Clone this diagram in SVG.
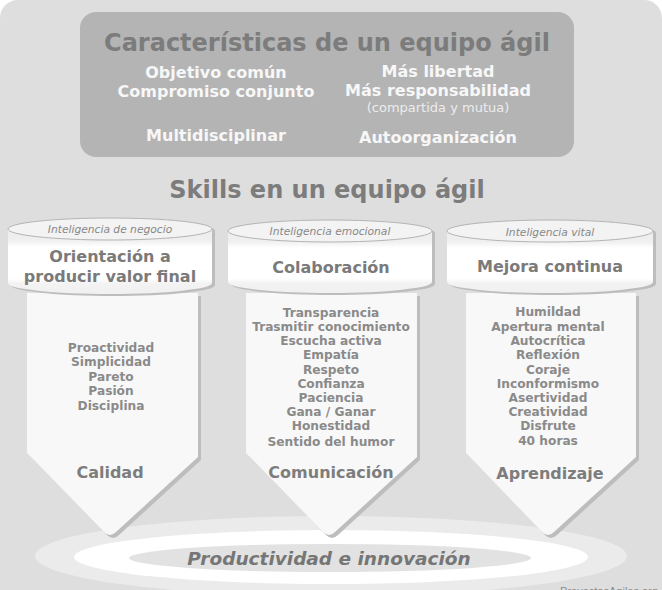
<svg xmlns="http://www.w3.org/2000/svg" width="662" height="590" viewBox="0 0 662 590">
<defs>
<style>
text{font-family:"DejaVu Sans","Verdana",sans-serif;text-anchor:middle}
.w{fill:#f7f7f7;font-weight:bold;font-size:16px}
.tt{fill:#7c7c7c;font-weight:bold;font-size:24px}
.lab{fill:#888;font-style:italic;font-size:10.7px}
.hd{fill:#7a7a7a;font-weight:bold;font-size:16px}
.it{fill:#8a8a8a;font-weight:bold;font-size:12.2px}
.ft{fill:#7d7d7d;font-weight:bold;font-size:16px}
.body{fill:#f8f8f8}
.shd{fill:#bdbdbd}
.cap{fill:url(#capg)}
.top{fill:#f3f3f3;stroke:#b4b4b4;stroke-width:1}
</style>
<linearGradient id="capg" x1="0" y1="0" x2="0" y2="1">
<stop offset="0" stop-color="#e9e9e9"/>
<stop offset="0.3" stop-color="#f0f0f0"/>
<stop offset="0.38" stop-color="#ffffff"/>
<stop offset="0.8" stop-color="#ffffff"/>
<stop offset="0.86" stop-color="#f3f3f3"/>
<stop offset="1" stop-color="#f0f0f0"/>
</linearGradient>
</defs>
<rect x="0" y="0" width="662" height="590" fill="#ffffff"/>
<rect x="0" y="0" width="662" height="610" rx="18" fill="#dedede"/>

<g id="caracteristicas">
<rect x="80" y="12" width="494" height="145" rx="16" fill="#b4b4b4"/>
<text class="tt" x="327" y="51">Características de un equipo ágil</text>
<text class="w" x="216" y="78">Objetivo común</text>
<text class="w" x="216" y="97">Compromiso conjunto</text>
<text class="w" x="438" y="77">Más libertad</text>
<text class="w" x="438" y="96">Más responsabilidad</text>
<text x="438" y="112" style="fill:#ececec;font-size:13px">(compartida y mutua)</text>
<text class="w" x="216" y="141">Multidisciplinar</text>
<text class="w" x="438" y="143">Autoorganización</text>
</g>

<text id="skills-title" class="tt" x="327" y="198">Skills en un equipo ágil</text>

<g id="base">
<ellipse cx="331" cy="556" rx="296" ry="40" fill="#ebebeb"/>
<ellipse cx="331" cy="557" rx="257" ry="27" fill="#ffffff"/>
<ellipse cx="330" cy="558" rx="201" ry="14" fill="#e2e2e2"/>
<text x="329" y="565" style="fill:#767676;font-weight:bold;font-style:italic;font-size:18.5px">Productividad e innovación</text>
</g>

<g id="connectors"></g>

<g id="negocio">
<path class="shd" d="M30,296 L30,456 L107,535 Q113,541 119,535 L201,460 L201,296 Z"/>
<path class="body" d="M27,293 L27,453 L104,532 Q110,538 116,532 L198,457 L198,293 Z"/>
<path class="shd" d="M11,231 A102,11 0 0 1 215,231 L215,285 A102,11 0 0 1 11,285 Z"/>
<path class="cap" d="M8,229 A102,11 0 0 1 212,229 L212,283 A102,11 0 0 1 8,283 Z"/>
<ellipse class="top" cx="110" cy="229" rx="102" ry="11"/>
<text class="lab" x="110" y="233">Inteligencia de negocio</text>
<text class="hd" x="110" y="262">Orientación a</text>
<text class="hd" x="110" y="282">producir valor final</text>
<text class="it" x="111" y="352">Proactividad</text>
<text class="it" x="111" y="366">Simplicidad</text>
<text class="it" x="111" y="381">Pareto</text>
<text class="it" x="111" y="395">Pasión</text>
<text class="it" x="111" y="410">Disciplina</text>
<text class="ft" x="110" y="478">Calidad</text>
</g>

<g id="emocional">
<path class="shd" d="M249,296 L249,456 L326,535 Q332,541 338,535 L420,460 L420,296 Z"/>
<path class="body" d="M246,293 L246,453 L323,532 Q329,538 335,532 L417,457 L417,293 Z"/>
<path class="shd" d="M231,233 A102,11 0 0 1 435,233 L435,284 A102,11 0 0 1 231,284 Z"/>
<path class="cap" d="M228,231 A102,11 0 0 1 432,231 L432,282 A102,11 0 0 1 228,282 Z"/>
<ellipse class="top" cx="330" cy="231" rx="102" ry="11"/>
<text class="lab" x="330" y="235">Inteligencia emocional</text>
<text class="hd" x="331" y="273">Colaboración</text>
<text class="it" x="331" y="317">Transparencia</text>
<text class="it" x="331" y="331">Trasmitir conocimiento</text>
<text class="it" x="331" y="345">Escucha activa</text>
<text class="it" x="331" y="359">Empatía</text>
<text class="it" x="331" y="374">Respeto</text>
<text class="it" x="331" y="388">Confianza</text>
<text class="it" x="331" y="402">Paciencia</text>
<text class="it" x="331" y="416">Gana / Ganar</text>
<text class="it" x="331" y="430">Honestidad</text>
<text class="it" x="331" y="446">Sentido del humor</text>
<text class="ft" x="331" y="478">Comunicación</text>
</g>

<g id="vital">
<path class="shd" d="M469,296 L469,456 L545,535 Q551,541 557,535 L639,460 L639,296 Z"/>
<path class="body" d="M466,293 L466,453 L542,532 Q548,538 554,532 L636,457 L636,293 Z"/>
<path class="shd" d="M450,233 A103,11 0 0 1 656,233 L656,284 A103,11 0 0 1 450,284 Z"/>
<path class="cap" d="M447,231 A103,11 0 0 1 653,231 L653,282 A103,11 0 0 1 447,282 Z"/>
<ellipse class="top" cx="550" cy="231" rx="103" ry="11"/>
<text class="lab" x="550" y="236">Inteligencia vital</text>
<text class="hd" x="550" y="272">Mejora continua</text>
<text class="it" x="548" y="316">Humildad</text>
<text class="it" x="548" y="331">Apertura mental</text>
<text class="it" x="548" y="345">Autocrítica</text>
<text class="it" x="548" y="359">Reflexión</text>
<text class="it" x="548" y="374">Coraje</text>
<text class="it" x="548" y="388">Inconformismo</text>
<text class="it" x="548" y="402">Asertividad</text>
<text class="it" x="548" y="416">Creatividad</text>
<text class="it" x="548" y="430">Disfrute</text>
<text class="it" x="548" y="445">40 horas</text>
<text class="ft" x="550" y="479">Aprendizaje</text>
</g>

<text x="609" y="595" style="fill:#8a8a8a;font-size:11px;font-family:'Liberation Sans',Arial,sans-serif">ProyectosAgiles.org</text>
</svg>
